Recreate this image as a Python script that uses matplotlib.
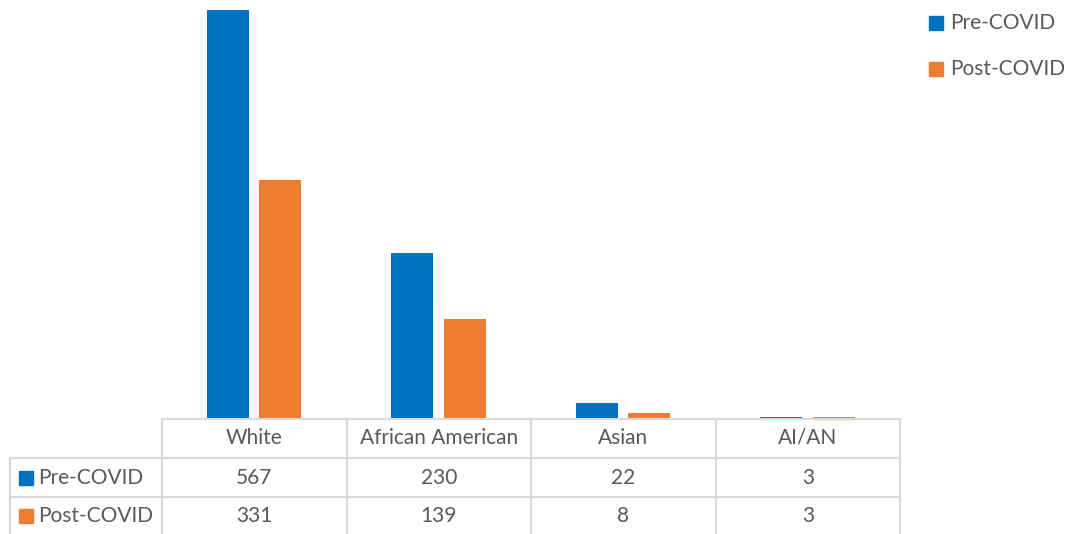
import matplotlib
matplotlib.use('Agg')
import matplotlib.pyplot as plt
from matplotlib.lines import Line2D
from matplotlib.patches import Rectangle
from matplotlib import transforms
import numpy as np

# data
categories = ['White', 'African American', 'Asian', 'AI/AN']
series = ['Pre-COVID', 'Post-COVID']
pre_covid = [567, 230, 22, 3]
post_covid = [331, 139, 8, 3]

colors = ['#0070C0', '#ED7D31']
text_color = '#595959'
grid_color = '#D9D9D9'

W, H = 1066, 534
plt.rcParams['font.family'] = ['Lato', 'DejaVu Sans']

fig = plt.figure(figsize=(W / 100, H / 100), dpi=100)

def fx(px):
    return px / W

def fy(py):
    return 1 - py / H

# bar area
ax = fig.add_axes([fx(162), fy(419), fx(900) - fx(162), 419 / H])
x = np.arange(len(categories))
bw = 0.227
ax.bar(x - 0.143, pre_covid, bw, color=colors[0])
ax.bar(x + 0.141, post_covid, bw, color=colors[1])
ax.set_xlim(-0.5, 3.5)
ax.set_ylim(0, 581)
ax.axis('off')

# data table
fs = 15
trans = transforms.blended_transform_factory(ax.transData, fig.transFigure)
lw = 1.5

def hline(y, x0, x1):
    fig.add_artist(Line2D([fx(x0), fx(x1)], [fy(y), fy(y)], color=grid_color, lw=lw))

def vline(xd, y0, y1):
    fig.add_artist(Line2D([xd, xd], [fy(y0), fy(y1)], color=grid_color, lw=lw, transform=trans))

hline(419, 162, 900)
hline(458, 10, 900)
hline(497, 10, 900)
fig.add_artist(Line2D([fx(10), fx(10)], [fy(458), fy(540)], color=grid_color, lw=lw))
for b in np.arange(len(categories) + 1) - 0.5:
    vline(b, 419, 540)

row_y = [478, 516]
for i, c in enumerate(categories):
    fig.text(x[i], fy(438), c, transform=trans, ha='center', va='center',
             fontsize=fs, color=text_color)
for vals, ry in zip([pre_covid, post_covid], row_y):
    for i, v in enumerate(vals):
        fig.text(x[i], fy(ry), str(v), transform=trans, ha='center', va='center',
                 fontsize=fs, color=text_color)

for s, col, ry in zip(series, colors, row_y):
    fig.add_artist(Rectangle((fx(19), fy(ry + 7)), fx(14), 14 / H, color=col))
    fig.text(fx(38), fy(ry), s, ha='left', va='center', fontsize=fs, color=text_color)

# legend
for s, col, ly in zip(series, colors, [23, 69]):
    fig.add_artist(Rectangle((fx(929), fy(ly + 7)), fx(14), 14 / H, color=col))
    fig.text(fx(950), fy(ly), s, ha='left', va='center', fontsize=fs, color=text_color)

fig.savefig('out.png', dpi=100)
